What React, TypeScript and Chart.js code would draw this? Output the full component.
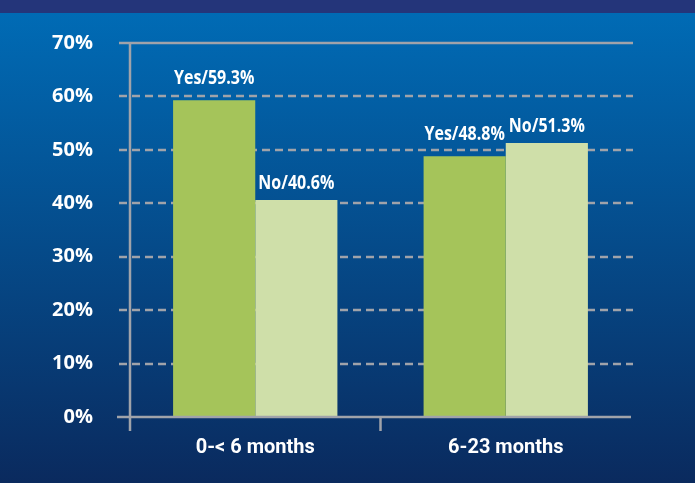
import React, { useEffect, useRef } from "react";
import { Chart, registerables } from "chart.js";

Chart.register(...registerables);

const categories = ["0-< 6 months", "6-23 months"];
const seriesNames = ["Yes", "No"];
const yesValues = [59.3, 48.8];
const noValues = [40.6, 51.3];
const yTicks = [0, 10, 20, 30, 40, 50, 60, 70];

const GRID = "#a0a3aa";

const gridPlugin = {
  id: "customGrid",
  beforeDatasetsDraw(chart: any) {
    const { ctx, chartArea } = chart;
    const y = chart.scales.y;
    ctx.save();
    ctx.strokeStyle = GRID;
    ctx.lineWidth = 2.5;
    yTicks.forEach((v) => {
      if (v === 0) return;
      const py = Math.round(y.getPixelForValue(v));
      ctx.setLineDash(v === yTicks[yTicks.length - 1] ? [] : [8, 5]);
      ctx.beginPath();
      ctx.moveTo(chartArea.left - 11, py);
      ctx.lineTo(chartArea.right + 2, py);
      ctx.stroke();
    });
    ctx.restore();
  },
  afterDatasetsDraw(chart: any) {
    const { ctx, chartArea } = chart;
    const x = chart.scales.x;
    ctx.save();
    ctx.strokeStyle = GRID;
    ctx.lineWidth = 2.5;
    ctx.setLineDash([]);
    ctx.beginPath();
    ctx.moveTo(chartArea.left - 13, chartArea.bottom);
    ctx.lineTo(chartArea.right, chartArea.bottom);
    ctx.stroke();
    ctx.beginPath();
    ctx.moveTo(chartArea.left, chartArea.top);
    ctx.lineTo(chartArea.left, chartArea.bottom + 14);
    ctx.stroke();
    for (let i = 1; i < categories.length; i++) {
      const px = (x.getPixelForValue(i - 1) + x.getPixelForValue(i)) / 2;
      ctx.beginPath();
      ctx.moveTo(px, chartArea.bottom);
      ctx.lineTo(px, chartArea.bottom + 14);
      ctx.stroke();
    }
    ctx.fillStyle = "#ffffff";
    ctx.font = `bold 20px 'Open Sans', sans-serif`;
    ctx.textAlign = "center";
    ctx.textBaseline = "alphabetic";
    chart.data.datasets.forEach((ds: any, di: number) => {
      const meta = chart.getDatasetMeta(di);
      meta.data.forEach((el: any, i: number) => {
        const v = ds.data[i] as number;
        const off = di === 0 ? 16 : 11;
        ctx.save();
        ctx.translate(el.x, el.y - off);
        ctx.scale(0.8, 1);
        ctx.fillText(`${ds.label}/${v.toFixed(1)}%`, 0, 0);
        ctx.restore();
      });
    });
    ctx.restore();
  },
};

export default function App() {
  const ref = useRef<HTMLCanvasElement | null>(null);
  useEffect(() => {
    if (!ref.current) return;
    const chart = new Chart(ref.current, {
      type: "bar",
      data: {
        labels: categories,
        datasets: [
          {
            label: seriesNames[0],
            data: yesValues,
            backgroundColor: "#a5c45a",
            borderWidth: 0,
          },
          {
            label: seriesNames[1],
            data: noValues,
            backgroundColor: "#cfdfa9",
            borderWidth: 0,
          },
        ],
      },
      options: {
        responsive: false,
        animation: false,
        devicePixelRatio: 1,
        layout: { padding: { top: 43, right: 64, left: 0, bottom: 0 } },
        plugins: {
          legend: { display: false },
          tooltip: { enabled: false },
          title: { display: false },
        },
        datasets: {
          bar: { categoryPercentage: 0.656, barPercentage: 1 },
        },
        scales: {
          x: {
            grid: { display: false, drawTicks: false },
            border: { display: false },
            ticks: {
              color: "#ffffff",
              font: { family: "Roboto, 'Open Sans', sans-serif", size: 20, weight: "bold" },
              padding: 19,
            },
            afterFit: (s: any) => {
              s.height = 66;
            },
          },
          y: {
            min: 0,
            max: 70,
            grid: { display: false, drawTicks: true, tickLength: 37 },
            border: { display: false },
            ticks: {
              stepSize: 10,
              color: "#ffffff",
              font: { family: "'Open Sans', sans-serif", size: 20, weight: "bold" },
              padding: 0,
              callback: (v: any) => `${v}%`,
            },
            afterFit: (s: any) => {
              s.width = 130;
            },
          },
        },
      },
      plugins: [gridPlugin],
    });
    return () => chart.destroy();
  }, []);

  return (
    <div
      style={{
        position: "fixed",
        left: 0,
        top: 0,
        width: 695,
        height: 483,
        background:
          "linear-gradient(to bottom, #24357a 0px, #24357a 13px, #006bb5 13px, #0a2a5e 483px)",
      }}
    >
      <canvas ref={ref} width={695} height={483} style={{ display: "block" }} />
    </div>
  );
}
